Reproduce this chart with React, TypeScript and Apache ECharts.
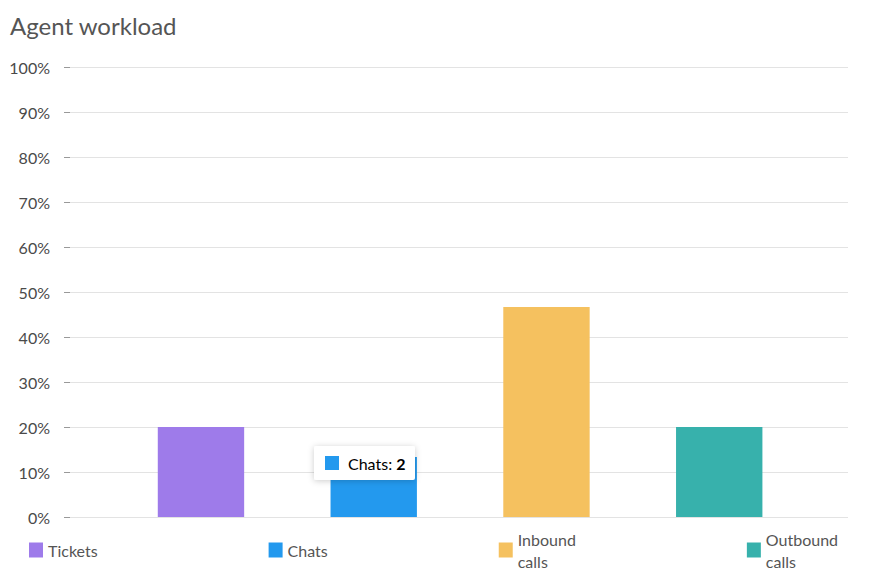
import React, { useEffect, useRef } from "react";
import * as echarts from "echarts";

const categories = ["Tickets", "Chats", "Inbound calls", "Outbound calls"];
const counts = [3, 2, 7, 3];
const colors = ["#9E7BEA", "#2399EE", "#F5C15F", "#37B1AC"];
const yTicks = [0, 10, 20, 30, 40, 50, 60, 70, 80, 90, 100];

const FONT = "Lato, 'Noto Sans', sans-serif";

export default function App() {
  const ref = useRef<HTMLDivElement>(null);
  useEffect(() => {
    if (!ref.current) return;
    const chart = echarts.init(ref.current, null, { renderer: "svg" });
    const total = counts.reduce((a, b) => a + b, 0);
    const shares = counts.map((c) => (c / total) * 100);
    const series = categories.map((name, i) => ({
      name,
      type: "bar",
      xAxisIndex: 1,
      yAxisIndex: 1,
      stack: "all",
      barWidth: "50%",
      itemStyle: { color: colors[i] },
      data: categories.map((_, j) => (j === i ? shares[j] : null)),
    }));
    chart.setOption({
      animation: false,
      textStyle: { fontFamily: FONT },
      title: {
        text: "Agent workload",
        left: 5,
        top: 8,
        textStyle: { fontFamily: FONT, fontSize: 24, fontWeight: "normal", color: "#555" },
      },
      grid: [
        { left: 70, right: 25, top: 67, bottom: 68 },
        { left: 114.6, right: 67.4, top: 67, bottom: 68 },
      ],
      xAxis: [
        { gridIndex: 0, type: "category", data: categories, show: false },
        {
          gridIndex: 1,
          type: "category",
          data: categories,
          axisLine: { show: false },
          axisTick: { show: false },
          axisLabel: { show: false },
        },
      ],
      yAxis: [
        {
          gridIndex: 0,
          type: "value",
          min: 0,
          max: 100,
          interval: 10,
          axisLine: { show: false },
          axisTick: { show: true, length: 6, lineStyle: { color: "#999" } },
          axisLabel: {
            margin: 20,
            formatter: (v: number) => (yTicks.includes(v) ? v + "%" : ""),
            color: "#4a4a4a",
            fontSize: 16,
            fontFamily: FONT,
          },
          splitLine: { lineStyle: { color: "#e3e3e3", width: 1 } },
        },
        { gridIndex: 1, type: "value", min: 0, max: 100, show: false, splitLine: { show: false } },
      ],
      legend: {
        left: 24,
        top: 523,
        itemGap: 171,
        itemWidth: 14,
        itemHeight: 15,
        icon: "rect",
        selectedMode: false,
        data: categories,
        formatter: (name: string) => name.replace(" ", "\n"),
        textStyle: { fontFamily: FONT, fontSize: 16, color: "#555", lineHeight: 22 },
      },
      series,
      graphic: [
        {
          type: "group",
          left: 314,
          top: 446,
          z: 100,
          children: [
            {
              type: "rect",
              z: 100,
              shape: { x: 0, y: 0, width: 101, height: 34, r: 2 },
              style: {
                fill: "#fff",
                shadowBlur: 6,
                shadowColor: "rgba(0,0,0,0.2)",
                shadowOffsetY: 1,
              },
            },
            {
              type: "rect",
              z: 101,
              shape: { x: 11, y: 10, width: 14, height: 14 },
              style: { fill: colors[1] },
            },
            {
              type: "text",
              z: 101,
              x: 34,
              y: 17,
              style: {
                text: "{n|" + categories[1] + ": }{v|" + counts[1] + "}",
                verticalAlign: "middle",
                rich: {
                  n: { fontFamily: FONT, fontSize: 16, color: "#555" },
                  v: { fontFamily: FONT, fontSize: 16, color: "#333", fontWeight: "bold" },
                },
              },
            },
          ],
        },
      ],
    });
    return () => chart.dispose();
  }, []);
  return (
    <div
      ref={ref}
      style={{ position: "absolute", left: 0, top: 0, width: 873, height: 585, background: "#fff" }}
    />
  );
}
